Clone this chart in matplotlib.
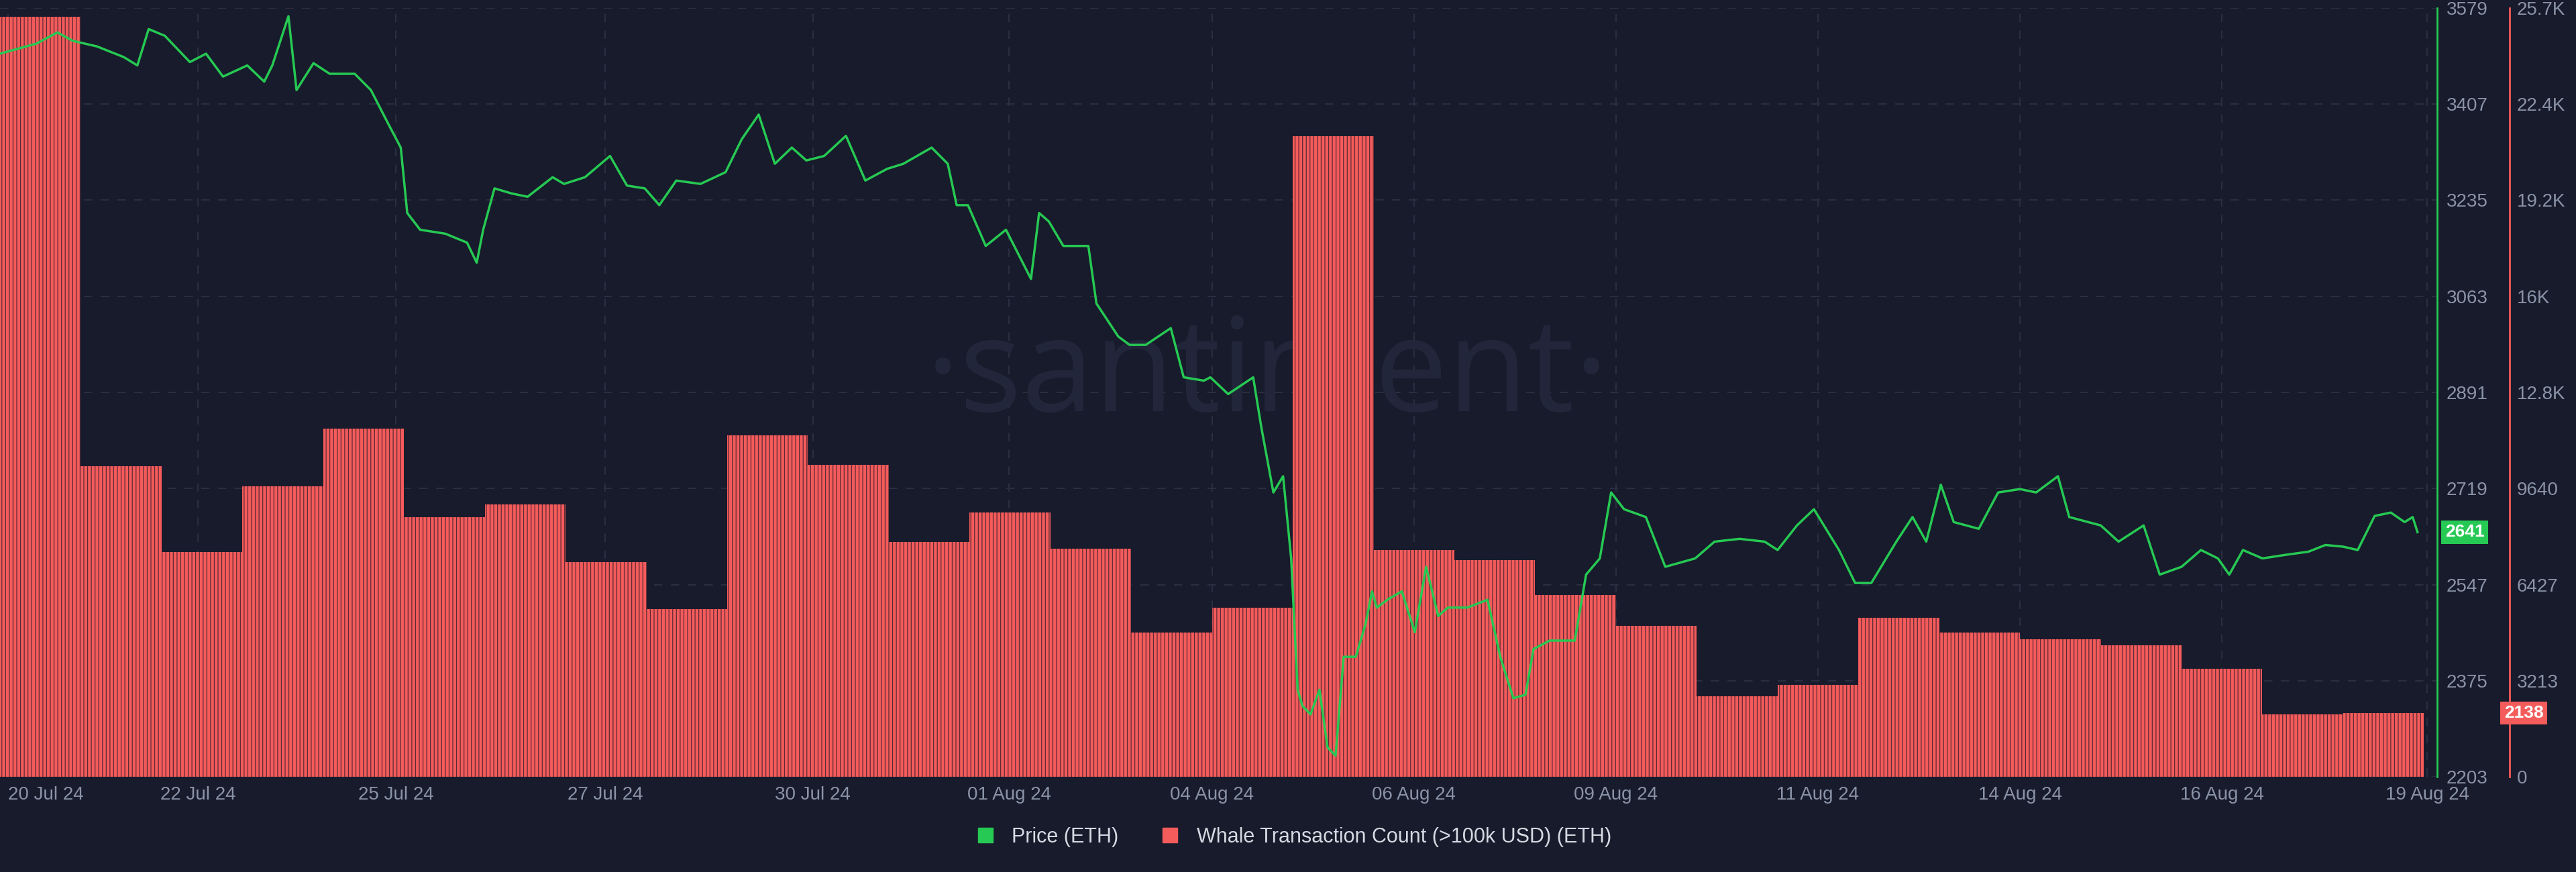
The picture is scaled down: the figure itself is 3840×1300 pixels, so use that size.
import matplotlib
matplotlib.use("Agg")
import matplotlib.pyplot as plt
from matplotlib.lines import Line2D
import numpy as np

# ---------------- data ----------------
whale_days = list(range(30))
whale_counts = [25400, 10380, 7520, 9720, 11640, 8670, 9110, 7190, 5600, 11420,
                10430, 7850, 8840, 7630, 4830, 5650, 21410, 7580, 7250, 6090,
                5050, 2690, 3070, 5330, 4830, 4610, 4390, 3620, 2090, 2138]

price_days = [0.00, 0.20, 0.45, 0.71, 0.90, 1.20, 1.53, 1.70, 1.84, 2.04, 2.35, 2.55, 2.76, 3.06, 3.27,
              3.37, 3.57, 3.67, 3.88, 4.08, 4.39, 4.59, 4.80, 4.96, 5.04, 5.20, 5.51, 5.78, 5.90, 5.98,
              6.12, 6.33, 6.53, 6.84, 6.98, 7.24, 7.55, 7.76, 7.98, 8.16, 8.37, 8.67, 8.98, 9.18, 9.39,
              9.59, 9.80, 9.98, 10.20, 10.47, 10.71, 10.98, 11.18, 11.53, 11.73, 11.84, 11.98, 12.20, 12.45,
              12.76, 12.86, 12.98, 13.16, 13.47, 13.57, 13.84, 13.98, 14.18, 14.49, 14.65, 14.90, 14.98,
              15.20, 15.51, 15.61, 15.76, 15.88, 15.98, 16.06, 16.12, 16.22, 16.33, 16.43, 16.53, 16.63,
              16.78, 16.90, 16.98, 17.04, 17.18, 17.35, 17.51, 17.65, 17.80, 17.92, 17.98, 18.16, 18.41,
              18.57, 18.73, 18.88, 18.98, 19.18, 19.49, 19.63, 19.80, 19.94, 20.10, 20.37, 20.61, 20.98,
              21.22, 21.53, 21.84, 22.00, 22.24, 22.45, 22.76, 22.96, 23.16, 23.47, 23.67, 23.84, 24.02,
              24.18, 24.49, 24.73, 25.00, 25.20, 25.47, 25.61, 26.00, 26.22, 26.53, 26.73, 27.00, 27.24,
              27.45, 27.59, 27.76, 28.00, 28.27, 28.57, 28.78, 29.00, 29.18, 29.39, 29.59, 29.76, 29.86, 29.92]

price_vals = [3497, 3505, 3515, 3535, 3520, 3510, 3491, 3476, 3541, 3529, 3482, 3497, 3456, 3476, 3447,
              3476, 3564, 3432, 3480, 3461, 3461, 3432, 3373, 3329, 3212, 3182, 3175, 3159, 3123, 3182,
              3256, 3247, 3241, 3276, 3264, 3276, 3314, 3261, 3256, 3226, 3270, 3264, 3285, 3344, 3388,
              3300, 3329, 3306, 3314, 3350, 3270, 3291, 3300, 3329, 3300, 3226, 3226, 3153, 3182,
              3094, 3212, 3197, 3153, 3153, 3050, 2991, 2976, 2976, 3006, 2918, 2912, 2918,
              2888, 2918, 2829, 2712, 2741, 2594, 2359, 2330, 2315, 2359, 2256, 2241, 2418,
              2418, 2476, 2535, 2506, 2521, 2535, 2462, 2579, 2491, 2506, 2506, 2506, 2520,
              2417, 2344, 2350, 2432, 2447, 2447, 2565, 2594, 2712, 2682, 2668, 2579, 2594,
              2624, 2629, 2624, 2609, 2653, 2682, 2609, 2550, 2550, 2624, 2668, 2624, 2726,
              2659, 2647, 2712, 2718, 2712, 2741, 2668, 2653, 2624, 2653, 2565, 2579, 2609, 2594,
              2565, 2609, 2594, 2600, 2606, 2618, 2615, 2609, 2670, 2676, 2659, 2668, 2641]

price_ticks = [2203, 2375, 2547, 2719, 2891, 3063, 3235, 3407, 3579]
whale_ticks = [0, 3212.5, 6425, 9637.5, 12850, 16062.5, 19275, 22487.5, 25700]
whale_tick_labels = ["0", "3213", "6427", "9640", "12.8K", "16K", "19.2K", "22.4K", "25.7K"]
date_pos = [0.1, 2.45, 4.9, 7.49, 10.06, 12.49, 15.0, 17.5, 20.0, 22.5, 25.0, 27.5, 30.04]
date_labels = ["20 Jul 24", "22 Jul 24", "25 Jul 24", "27 Jul 24", "30 Jul 24", "01 Aug 24",
               "04 Aug 24", "06 Aug 24", "09 Aug 24", "11 Aug 24", "14 Aug 24", "16 Aug 24", "19 Aug 24"]

n = min(len(price_days), len(price_vals))
price_days = price_days[:n]
price_vals = price_vals[:n]

# ---------------- style ----------------
BG = "#181b2b"
GREEN = "#26c953"
RED = "#f45b5b"
TXT = "#8a93a8"
GRID = "#2a2e40"
plt.rcParams['font.family'] = ['Liberation Sans', 'DejaVu Sans']
plt.rcParams['hatch.linewidth'] = 0.9

fig = plt.figure(figsize=(38.4, 13), dpi=100, facecolor=BG)
ax = fig.add_axes([0.0, 0.109, 0.946, 0.882])
ax.set_facecolor(BG)
ax.set_axisbelow(True)
ax2 = ax.twinx()

ax.bar(whale_days, whale_counts, width=1.0, align='edge', color=RED,
       edgecolor="#5a2a34", linewidth=0, hatch='|||', zorder=2)
ax.set_ylim(0, 25700)
ax.set_xlim(0, 30.16)
ax.set_yticks(whale_ticks)
ax.set_yticklabels(whale_tick_labels)
ax.yaxis.tick_right()
ax.spines['right'].set_position(('axes', 1.0 + 108 / 3632))
ax.spines['right'].set_color(RED)
ax.spines['right'].set_linewidth(2)
for s in ['top', 'left', 'bottom']:
    ax.spines[s].set_visible(False)
ax.tick_params(axis='y', colors=TXT, labelsize=20, length=0, pad=8)
ax.set_xticks(date_pos)
ax.set_xticklabels(date_labels)
ax.tick_params(axis='x', colors=TXT, labelsize=20, length=0, pad=10)
ax.get_xticklabels()[0].set_horizontalalignment('left')
ax.grid(True, color=GRID, linestyle=(0, (6, 6)), linewidth=1.5, zorder=0)

ax.text(0.52, 0.52, "·santiment·", transform=ax.transAxes, fontsize=140,
        color="#22263a", ha='center', va='center', family=['Open Sans', 'DejaVu Sans'], zorder=1)

ax2.plot(price_days, price_vals, color=GREEN, linewidth=2.5, zorder=5)
ax2.set_ylim(2203, 3579)
ax2.set_yticks(price_ticks)
ax2.spines['right'].set_color(GREEN)
ax2.spines['right'].set_linewidth(2)
for s in ['top', 'left', 'bottom']:
    ax2.spines[s].set_visible(False)
ax2.tick_params(axis='y', colors=TXT, labelsize=20, length=0, pad=10)

ax2.text(1.0 + 12 / 3632, price_vals[-1], str(price_vals[-1]), transform=ax2.get_yaxis_transform(),
         color='white', fontsize=19, fontweight='bold', va='center', ha='left',
         bbox=dict(boxstyle='square,pad=0.2', fc=GREEN, ec='none'), zorder=10)
ax.text(1.0 + 100 / 3632, whale_counts[-1], str(whale_counts[-1]), transform=ax.get_yaxis_transform(),
        color='white', fontsize=19, fontweight='bold', va='center', ha='left',
        bbox=dict(boxstyle='square,pad=0.2', fc=RED, ec='none'), zorder=10)

handles = [Line2D([], [], marker='s', linestyle='none', markersize=16, color=GREEN),
           Line2D([], [], marker='s', linestyle='none', markersize=16, color=RED)]
leg = fig.legend(handles, ["Price (ETH)", "Whale Transaction Count (>100k USD) (ETH)"],
                 loc='center', bbox_to_anchor=(0.5, 0.04), ncol=2, frameon=False,
                 fontsize=22, handletextpad=0.3, columnspacing=1.5)
for t in leg.get_texts():
    t.set_color("#d5d9e2")

fig.savefig("out.png", dpi=100, facecolor=BG)
